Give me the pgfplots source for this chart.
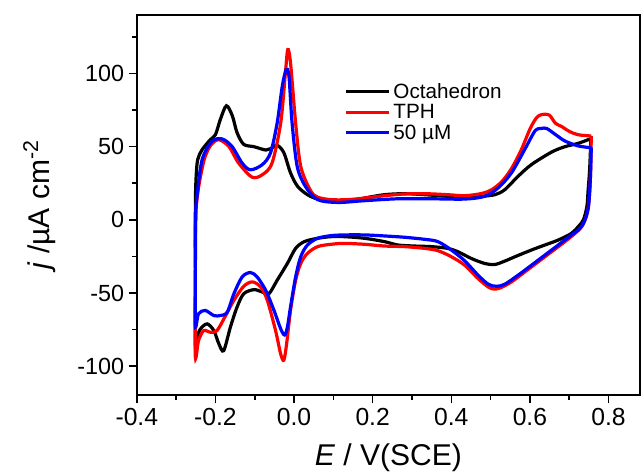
\documentclass[border=0pt]{standalone}
\usepackage{fontspec}
\setmainfont{Liberation Sans}
\usepackage{pgfplots}
\pgfplotsset{compat=1.18}

\begin{document}
\begin{tikzpicture}
\begin{axis}[
    scale only axis,
    width=377pt, height=285pt,
    xmin=-0.4, xmax=0.88,
    ymin=-120, ymax=140,
    xtick={-0.4,-0.2,...,0.8},
    minor xtick={-0.3,-0.1,...,0.9},
    ytick={-100,-50,0,50,100},
    minor ytick={-125,-75,-25,25,75,125},
    xtick pos=lower, ytick pos=left,
    tick align=outside,
    major tick length=6pt, minor tick length=3.5pt,
    every tick/.style={line width=1.2pt, black},
    axis line style={line width=1.5pt},
    /pgf/number format/assume math mode=true,
    yticklabel style={font=\fontsize{17.5}{20}\selectfont},
    xticklabel style={font=\fontsize{18.5}{22}\selectfont,
        /pgf/number format/.cd, fixed, fixed zerofill, precision=1},
    xlabel={\textit{E} / V(SCE)},
    ylabel={\textit{j} /µA cm\raisebox{0.75ex}{\fontsize{16}{16}\selectfont -2}},
    label style={font=\fontsize{22.5}{26}\selectfont},
    xlabel style={yshift=-7pt},
    ylabel style={yshift=9pt},
    legend style={at={(0.405,0.835)}, anchor=north west, draw=none, fill=none,
        font=\fontsize{15.5}{18}\selectfont, row sep=-1pt},
    legend cell align=left,
    legend image code/.code={\draw[#1] (0pt,0pt) -- (32pt,0pt);},
    every axis plot/.append style={line width=2.4pt, smooth, tension=0.5},
]
% Octahedron
\addplot[black] coordinates {
(0.755,55.5) (0.752,35) (0.748,20) (0.745,9.2) (0.736,0) (0.723,-4.6) (0.706,-9.2)
(0.672,-13.8) (0.638,-17.2) (0.604,-20.6) (0.562,-25.2) (0.536,-28.2) (0.511,-30.5)
(0.485,-29.8) (0.451,-26.4) (0.417,-21.8) (0.391,-19.5) (0.349,-18.3) (0.306,-17.9)
(0.264,-17.2) (0.230,-14.9) (0.179,-12.6) (0.128,-11.5) (0.094,-11.5) (0.060,-12.6)
(0.026,-14.9) (0.004,-19.5) (-0.017,-29.8) (-0.043,-41.3) (-0.064,-50.5) (-0.081,-49.3)
(-0.102,-47.7) (-0.128,-50.5) (-0.145,-59.6) (-0.162,-73.4) (-0.179,-89.4) (-0.191,-84.9)
(-0.204,-75.7) (-0.221,-71.1) (-0.238,-74.5) (-0.247,-80.3) (-0.251,-87.2)
(-0.251,-40) (-0.251,10) (-0.249,30)
(-0.245,41.3) (-0.234,47.9) (-0.213,54.8) (-0.200,58.2) (-0.187,69) (-0.172,78.0)
(-0.157,71.1) (-0.145,59.6) (-0.128,51.6) (-0.102,50.0) (-0.072,47.7) (-0.060,48.6)
(-0.043,50.9) (-0.026,45.9) (-0.009,32.1) (0.009,22.9) (0.034,17.2) (0.060,14.2)
(0.094,12.8) (0.136,12.6) (0.179,14.9) (0.230,17.2) (0.281,17.9) (0.332,17.2)
(0.391,16.1) (0.434,15.6) (0.477,16.1) (0.511,17.2) (0.536,20.6) (0.570,29.8)
(0.604,37.8) (0.655,46.3) (0.689,50.0) (0.723,52.3) (0.755,55.5)
};
\addlegendentry{Octahedron}
% TPH
\addplot[red] coordinates {
(0.756,57.3) (0.754,30) (0.750,12) (0.743,2) (0.732,-4.6) (0.715,-9.2) (0.689,-14.9)
(0.655,-21.8) (0.621,-28.7) (0.587,-35.6) (0.553,-42.4) (0.525,-46.5) (0.508,-47.3)
(0.494,-45.9) (0.468,-40.1) (0.434,-31) (0.400,-25.2) (0.366,-21.1) (0.332,-19.5)
(0.281,-18.3) (0.230,-17.9) (0.179,-16.7) (0.128,-16.1) (0.094,-16.7) (0.060,-18.3)
(0.034,-22.9) (0.017,-29.8) (0.004,-41.3) (-0.009,-61.9) (-0.019,-84.9) (-0.026,-95.9)
(-0.034,-91.7) (-0.047,-75.7) (-0.068,-55.0) (-0.085,-45.9) (-0.106,-42.4) (-0.128,-45.4)
(-0.153,-55.0) (-0.174,-65.4) (-0.196,-75.7) (-0.213,-76.8) (-0.230,-75.7) (-0.243,-82.6)
(-0.251,-94.0)
(-0.251,-50) (-0.251,-10) (-0.249,8)
(-0.243,22) (-0.234,35) (-0.226,43.4) (-0.212,51) (-0.192,54.8) (-0.166,50.2)
(-0.141,38.8) (-0.107,29.2) (-0.081,30.8) (-0.056,38.8) (-0.034,66.2) (-0.022,100.5)
(-0.016,116.4) (-0.009,107.3) (0.004,66.2) (0.017,36.5) (0.042,20) (0.060,15.5)
(0.094,13.8) (0.136,13.8) (0.179,14.9) (0.230,16.5) (0.281,17.7) (0.332,17.9)
(0.391,17.2) (0.434,16.5) (0.477,18) (0.502,20.5) (0.528,26) (0.553,35) (0.578,47.9)
(0.600,62) (0.616,69.5) (0.629,71.9) (0.649,71.6) (0.665,66) (0.680,63.9) (0.700,60.5)
(0.722,58.2) (0.756,57.3)
};
\addlegendentry{TPH}
% 50 uM
\addplot[blue] coordinates {
(0.756,49.3) (0.754,30) (0.749,9.2) (0.740,0) (0.728,-5.7) (0.706,-10.3) (0.672,-17.2)
(0.638,-24.1) (0.604,-31) (0.570,-37.8) (0.536,-44) (0.515,-45.4) (0.494,-44)
(0.468,-37.8) (0.434,-28) (0.400,-20.6) (0.366,-14.9) (0.332,-13.3) (0.281,-11.9)
(0.230,-11.0) (0.179,-10.3) (0.128,-10.3) (0.094,-10.8) (0.060,-12.6) (0.034,-17.2)
(0.017,-25.2) (0.004,-39) (-0.009,-59.6) (-0.017,-73.4) (-0.024,-78.7) (-0.034,-74.5)
(-0.051,-61.9) (-0.072,-48.2) (-0.094,-39) (-0.111,-36) (-0.132,-39) (-0.153,-50.5)
(-0.170,-63.1) (-0.187,-65.4) (-0.204,-65.4) (-0.226,-61.9) (-0.243,-64.2) (-0.251,-72.2)
(-0.251,-30) (-0.250,5)
(-0.247,16) (-0.234,41) (-0.209,53.6) (-0.183,55.3) (-0.158,50.2) (-0.132,38.8)
(-0.111,34.2) (-0.081,37.7) (-0.060,45.7) (-0.043,66.2) (-0.030,91.3) (-0.020,102.7)
(-0.013,98.2) (-0.005,66.2) (0.008,36.5) (0.029,22.8) (0.060,13.8) (0.111,11.9)
(0.179,13.1) (0.264,14.4) (0.349,14.4) (0.434,14.2) (0.485,16.1) (0.519,21.8)
(0.553,32.1) (0.587,48.2) (0.613,60.8) (0.629,62.5) (0.643,62.4) (0.664,58.5)
(0.689,53.9) (0.723,50.5) (0.756,49.3)
};
\addlegendentry{50 µM}
\end{axis}
\pgfresetboundingbox
\path[use as bounding box] (current axis.south west) ++(-102.5pt,-60pt) rectangle
  ([xshift=0.75pt,yshift=11.25pt]current axis.north east);
\end{tikzpicture}
\end{document}
